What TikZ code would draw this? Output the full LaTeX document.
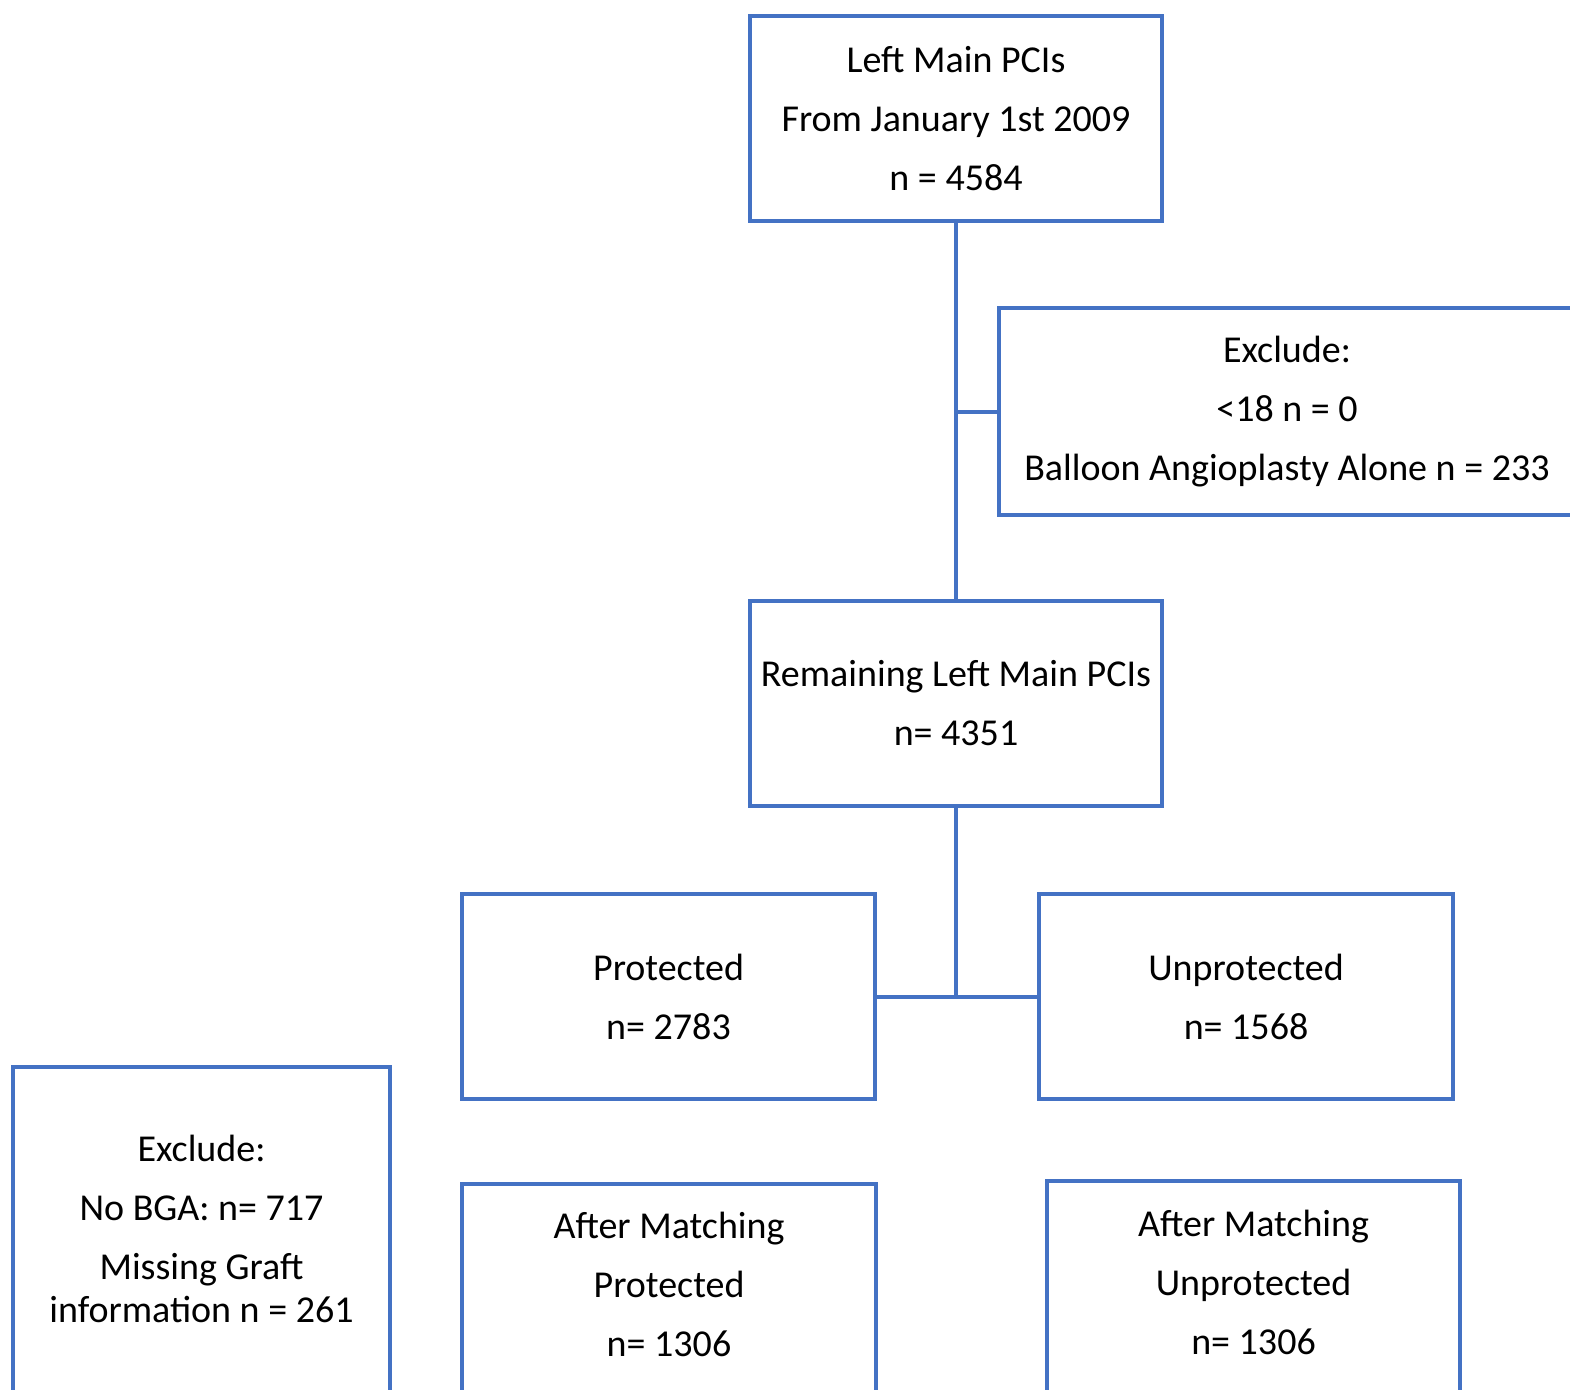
\documentclass[tikz,border=0pt]{standalone}
\usepackage{fontspec}
\setmainfont{Carlito}
\definecolor{boxblue}{HTML}{4472C4}
\begin{document}
\begin{tikzpicture}[x=1pt,y=-1pt,
  flowbox/.style={draw=boxblue, line width=4pt, inner sep=0pt, outer sep=0pt,
    align=center, font=\fontsize{38}{59}\selectfont, text=black},
  flowtext/.style={inner sep=0pt, align=center, font=\fontsize{38}{59}\selectfont, text=black},
  link/.style={draw=boxblue, line width=4pt}]
\useasboundingbox (0,0) rectangle (1570,1389);
\clip (0,0) rectangle (1570,1389);
\node[flowbox, minimum width=412pt, minimum height=205pt] (top) at (956,118.5)
  {Left Main PCIs\\From January 1st 2009\\n = 4584};
\node[flowbox, minimum width=576pt, minimum height=207pt] (excl1) at (1287,411.5)
  {Exclude:\\<18 n = 0\\Balloon Angioplasty Alone n = 233};
\node[flowbox, minimum width=412pt, minimum height=205pt] (rem) at (956,703.5)
  {Remaining Left Main PCIs\\n= 4351};
\node[flowbox, minimum width=413pt, minimum height=205pt] (prot) at (668.5,996.5)
  {Protected\\n= 2783};
\node[flowbox, minimum width=414pt, minimum height=205pt] (unprot) at (1246,996.5)
  {Unprotected\\n= 1568};
% boxes running off the bottom edge
\node[flowbox, minimum width=377pt, minimum height=347pt] (excl2) at (201.5,1240.5) {};
\node[flowtext] (excl2t) at (201.5,1229)
  {Exclude:\\No BGA: n= 717\\Missing Graft\\[-16pt]information n = 261};
\node[flowbox, minimum width=414pt, minimum height=230pt] (amprot) at (669,1299) {};
\node[flowtext] (amprott) at (669,1284) {After Matching\\Protected\\n= 1306};
\node[flowbox, minimum width=413pt, minimum height=233pt] (amunprot) at (1253.5,1297.5) {};
\node[flowtext] (amunprott) at (1253.5,1282) {After Matching\\Unprotected\\n= 1306};
\coordinate (j1) at (top.south |- excl1.west);
\coordinate (j2) at (rem.south |- prot.east);
\draw[link] (top.south) -- (rem.north);
\draw[link] (j1) -- (excl1.west);
\draw[link] (rem.south) -- (j2);
\draw[link] (prot.east) -- (unprot.west);
\end{tikzpicture}
\end{document}
